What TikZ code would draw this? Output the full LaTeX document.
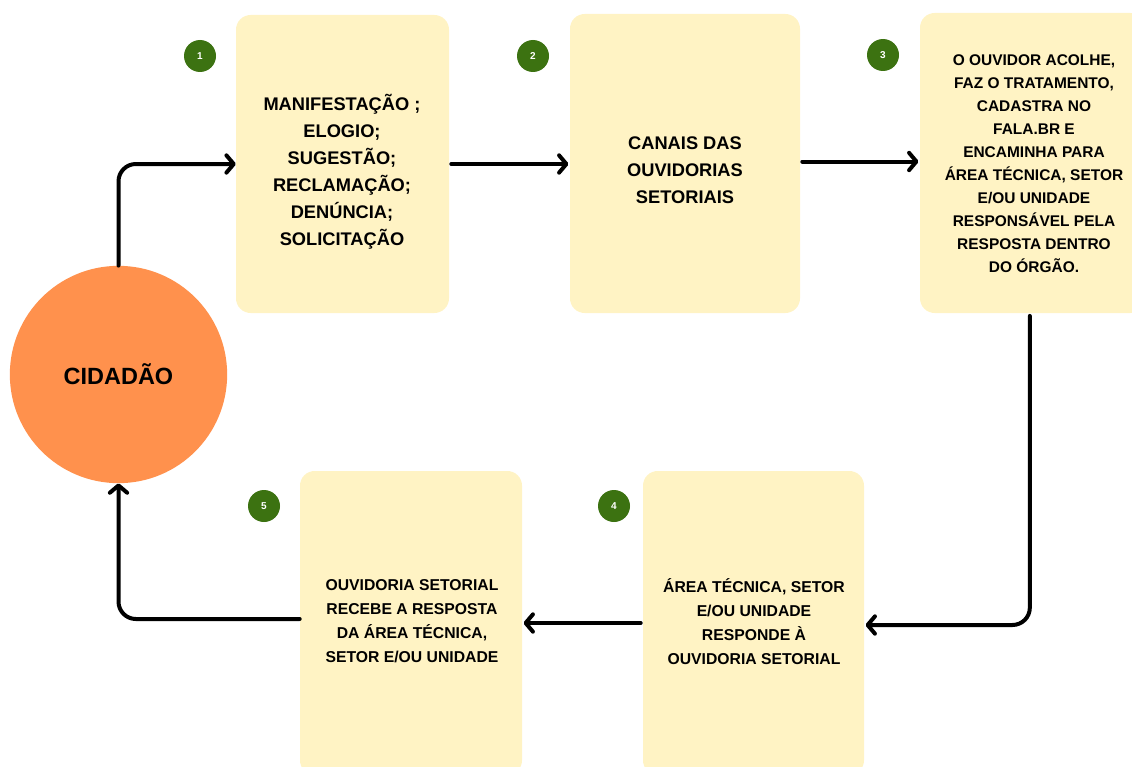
\documentclass[tikz,border=0pt]{standalone}
\usepackage{fontspec}
\setmainfont{Liberation Sans}
\usetikzlibrary{arrows.meta}
\definecolor{boxfill}{HTML}{FFF3C4}
\definecolor{orangec}{HTML}{FF914D}
\definecolor{badgeg}{HTML}{3C7211}
\tikzset{
  card/.style={fill=boxfill, rounded corners=11pt, inner sep=0pt},
  badge/.style={circle, fill=badgeg, minimum size=24pt, inner sep=0pt, text=white, font=\bfseries\fontsize{7.5}{8}\selectfont},
  bigtxt/.style={align=center, font=\bfseries\fontsize{13.7}{20.2}\selectfont},
  smalltxt/.style={align=center, font=\bfseries\fontsize{11.6}{17.3}\selectfont},
  midtxt/.style={align=center, font=\bfseries\fontsize{11.8}{18}\selectfont},
  conn/.style={line width=3pt, line cap=round, line join=round, rounded corners=13pt,
    -{Straight Barb[length=5.5pt,width=13pt,round]}},
}
\begin{document}
\begin{tikzpicture}[x=0.75pt,y=-0.75pt]
\useasboundingbox (0,0) rectangle (1132,767);
% boxes
\node[card, minimum width=159.75pt, minimum height=223.5pt] (b1) at (342.5,164) {};
\node[card, minimum width=172.5pt, minimum height=224.25pt] (b2) at (685,163.5) {};
\node[card, minimum width=168.75pt, minimum height=225pt] (b3) at (1032.5,163) {};
\node[card, minimum width=166.5pt, minimum height=228pt] (b5) at (411,623) {};
\node[card, minimum width=165.75pt, minimum height=228pt] (b4) at (753.5,623) {};
% citizen
\node[circle, fill=orangec, minimum size=163pt, inner sep=0pt, font=\bfseries\fontsize{17.6}{20}\selectfont] (cid) at (118.5,374.5) {CIDADÃO};
% texts
\node[bigtxt] (t1) at (342,171.5) {MANIFESTAÇÃO ;\\ELOGIO;\\SUGESTÃO;\\RECLAMAÇÃO;\\DENÚNCIA;\\SOLICITAÇÃO};
\node[bigtxt] (t2) at (685,170) {CANAIS DAS\\OUVIDORIAS\\SETORIAIS};
\node[smalltxt] (t3) at (1034,163.5) {O OUVIDOR ACOLHE,\\FAZ O TRATAMENTO,\\CADASTRA NO\\FALA.BR E\\ENCAMINHA PARA\\ÁREA TÉCNICA, SETOR\\E/OU UNIDADE\\RESPONSÁVEL PELA\\RESPOSTA DENTRO\\DO ÓRGÃO.};
\node[midtxt] (t4) at (754,622) {ÁREA TÉCNICA, SETOR\\E/OU UNIDADE\\RESPONDE À\\OUVIDORIA SETORIAL};
\node[midtxt] (t5) at (412,621) {OUVIDORIA SETORIAL\\RECEBE A RESPOSTA\\DA ÁREA TÉCNICA,\\SETOR E/OU UNIDADE};
% badges
\node[badge] (n1) at (200,56) {1};
\node[badge] (n2) at (533,56) {2};
\node[badge] (n3) at (883,55) {3};
\node[badge] (n4) at (614,506) {4};
\node[badge] (n5) at (264,506) {5};
% connectors
\draw[conn] (cid.north) |- (b1.west);
\draw[conn] ([xshift=1.5pt]b1.east) -- ([xshift=-1pt]b1.east -| b2.west);
\draw[conn] ([xshift=1.5pt,yshift=1.5pt]b2.east) -- ([yshift=1.5pt,xshift=-1pt]b2.east -| b3.west);
\draw[conn] ([yshift=-2pt,xshift=-2pt]b3.south) |- ([xshift=1pt,yshift=-1.5pt]b4.east);
\draw[conn] ([xshift=-1.5pt]b4.west) -- ([xshift=1pt]b5.east);
\draw[conn] ([yshift=3pt]b5.west) -| (cid.south);
\end{tikzpicture}
\end{document}
